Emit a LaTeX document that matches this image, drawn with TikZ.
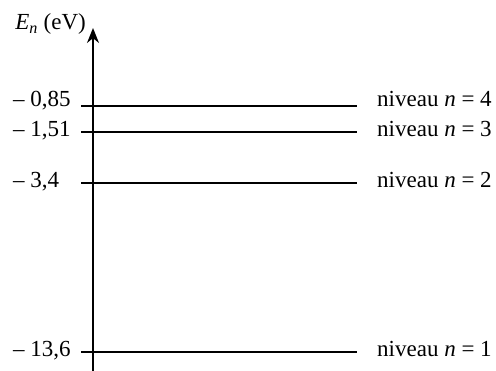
\documentclass[tikz,border=0pt]{standalone}
\usepackage{fontspec}
\setmainfont{Liberation Serif}
\usetikzlibrary{arrows.meta,positioning}

\begin{document}
\begin{tikzpicture}[x=1pt, y=-1pt, font=\fontsize{23}{27}\selectfont,
  niv/.style={line width=1.8pt},
  valeur/.style={anchor=base west, inner sep=0pt},
  etiq/.style={anchor=base west, inner sep=0pt}]
\useasboundingbox (0,0) rectangle (496,371);
% axe des energies
\coordinate (bas) at (93,371);
\coordinate (haut) at (93,28);
\draw[line width=2pt, -{Stealth[length=15pt,width=12pt]}] (bas) -- (haut);
\node[anchor=base east, inner sep=0pt] (axe) at (86,30) {\textit{E}\textsubscript{\textit{n}} (eV)};
% niveaux d'energie
\foreach \n/\y/\b/\E in {4/106/107/{0,85}, 3/132/137/{1,51}, 2/183/188/{3,4}, 1/352/357/{13,6}} {
  \coordinate (g\n) at (81,\y);
  \coordinate (d\n) at (357,\y);
  \draw[niv] (g\n) -- (d\n);
  \node[valeur] (val\n) at (13,\b) {– \E};
  \node[etiq] (lab\n) at (377,\b) {niveau \textit{n} = \n};
}
\end{tikzpicture}
\end{document}
